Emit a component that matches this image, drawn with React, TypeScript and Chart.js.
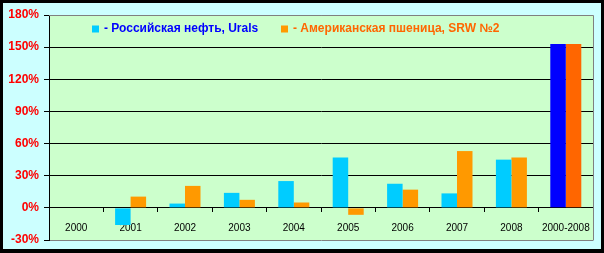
import React, { useEffect, useRef } from "react";
import { Chart, registerables } from "chart.js";

Chart.register(...registerables);

const categories = ["2000", "2001", "2002", "2003", "2004", "2005", "2006", "2007", "2008", "2000-2008"];
const uralsValues = [null, -16, 4, 14, 25, 47, 22.5, 13.5, 45, 153];
const wheatValues = [null, 10.5, 20.5, 7.5, 5, -6.5, 17, 53, 47, 153];
const uralsColors = ["#00ccff", "#00ccff", "#00ccff", "#00ccff", "#00ccff", "#00ccff", "#00ccff", "#00ccff", "#00ccff", "#0000ff"];
const wheatColors = ["#ff9900", "#ff9900", "#ff9900", "#ff9900", "#ff9900", "#ff9900", "#ff9900", "#ff9900", "#ff9900", "#ff6600"];
const seriesNames = ["- Российская нефть, Urals", "- Американская пшеница, SRW №2"];
const legendSwatch = ["#00ccff", "#ff9900"];
const legendText = ["#0000ff", "#ff6600"];
const yMin = -30;
const yMax = 180;
const yStep = 30;

const FONT = "'Liberation Sans', Arial, sans-serif";

const framePlugin = {
  id: "frame",
  beforeDraw(chart: any) {
    const { ctx, width, height, chartArea } = chart;
    ctx.save();
    ctx.fillStyle = "#000000";
    ctx.fillRect(0, 0, width, height);
    ctx.fillStyle = "#ccffff";
    ctx.fillRect(3, 3, width - 6, height - 7);
    ctx.fillStyle = "#ccffcc";
    ctx.fillRect(chartArea.left, chartArea.top, chartArea.right - chartArea.left, chartArea.bottom - chartArea.top);
    ctx.restore();
  },
  beforeDatasetsDraw(chart: any) {
    const { ctx, chartArea } = chart;
    ctx.save();
    ctx.strokeStyle = "#808080";
    ctx.lineWidth = 1;
    ctx.beginPath();
    ctx.moveTo(chartArea.left, chartArea.top + 0.5);
    ctx.lineTo(chartArea.right + 0.5, chartArea.top + 0.5);
    ctx.lineTo(chartArea.right + 0.5, chartArea.bottom + 0.5);
    ctx.stroke();
    ctx.restore();
  },
  afterDatasetsDraw(chart: any) {
    const { ctx, chartArea } = chart;
    ctx.save();
    ctx.font = `bold 12px ${FONT}`;
    ctx.textBaseline = "middle";
    const y = chartArea.top + 14;
    let x = chartArea.left + 43;
    seriesNames.forEach((name, i) => {
      ctx.fillStyle = legendSwatch[i];
      ctx.fillRect(x, y - 3.5, 7, 7);
      ctx.fillStyle = legendText[i];
      ctx.fillText(name, x + 12, y);
      x += 189;
    });
    ctx.restore();
  },
};

export default function App() {
  const ref = useRef<HTMLCanvasElement>(null);
  useEffect(() => {
    const chart = new Chart(ref.current!, {
      type: "bar",
      data: {
        labels: categories,
        datasets: [
          { label: seriesNames[0], data: uralsValues, backgroundColor: uralsColors, borderWidth: 0 },
          { label: seriesNames[1], data: wheatValues, backgroundColor: wheatColors, borderWidth: 0 },
        ],
      },
      options: {
        animation: false,
        responsive: false,
        maintainAspectRatio: false,
        layout: { padding: { left: 0, top: 15, right: 11, bottom: 13 } },
        datasets: { bar: { categoryPercentage: 0.57, barPercentage: 1 } },
        plugins: { legend: { display: false }, tooltip: { enabled: false } },
        scales: {
          x: {
            type: "category",
            position: { y: 0 } as any,
            grid: { drawOnChartArea: false, drawTicks: true, tickLength: 4, color: "#000000", offset: true },
            border: { display: true, color: "#000000", width: 1 },
            ticks: { color: "#000000", font: { family: FONT, size: 10 }, padding: 10, maxRotation: 0, autoSkip: false },
          },
          y: {
            min: yMin,
            max: yMax,
            afterFit: (s: any) => { s.width = 49; },
            grid: {
              color: (c: any) => (c.tick && (c.tick.value === yMax || c.tick.value === yMin) ? "#808080" : "#000000"),
              tickColor: "#000000",
              tickLength: 5,
              lineWidth: 1,
            },
            border: { display: true, color: "#000000" },
            ticks: {
              stepSize: yStep,
              color: "#ff0000",
              font: { family: FONT, size: 12, weight: "bold" },
              padding: 5,
              callback: (v: any) => `${v}%`,
            },
          },
        },
      },
      plugins: [framePlugin],
    });
    return () => chart.destroy();
  }, []);
  return (
    <>
      <style>{`body{margin:0}`}</style>
      <canvas ref={ref} width={604} height={253} style={{ display: "block" }} />
    </>
  );
}
